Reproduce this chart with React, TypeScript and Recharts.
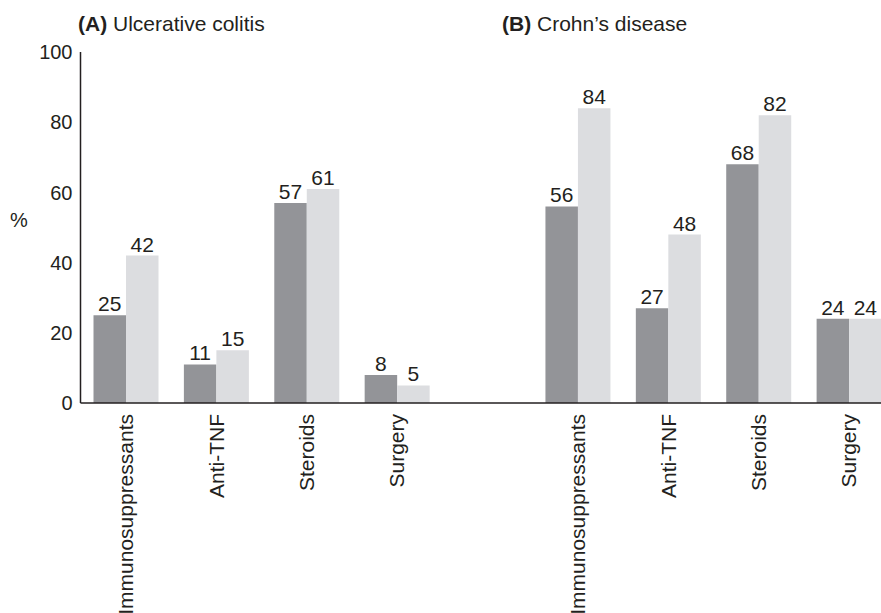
import { Bar, BarChart, LabelList, XAxis, YAxis } from "recharts";

const categories = [
  "Immunosuppressants",
  "Anti-TNF",
  "Steroids",
  "Surgery",
  "",
  "Immunosuppressants",
  "Anti-TNF",
  "Steroids",
  "Surgery",
];
const darkValues = [25, 11, 57, 8, null, 56, 27, 68, 24];
const lightValues = [42, 15, 61, 5, null, 84, 48, 82, 24];
const yTicks = [0, 20, 40, 60, 80, 100];

const FONT = "'Liberation Sans', Arial, Helvetica, sans-serif";
const INK = "#231f20";

const data = categories.map((name, i) => ({
  name,
  dark: darkValues[i],
  light: lightValues[i],
}));

function CategoryTick(props: any) {
  const { x, y, payload } = props;
  if (!payload.value) return null;
  return (
    <text
      transform={`translate(${x},${y + 9}) rotate(-90)`}
      textAnchor="end"
      dominantBaseline="central"
      fontFamily={FONT}
      fontSize={21}
      fill={INK}
    >
      {payload.value}
    </text>
  );
}

export default function App() {
  return (
    <div
      style={{
        position: "absolute",
        left: 0,
        top: 0,
        width: 881,
        height: 613,
        overflow: "hidden",
        background: "#fff",
      }}
    >
      <BarChart
        width={900}
        height={613}
        data={data}
        margin={{ top: 52, right: 6, left: 0, bottom: 0 }}
        barGap={0}
        barSize={32.5}
      >
        <XAxis
          dataKey="name"
          height={210}
          tickLine={false}
          tickSize={0}
          tick={<CategoryTick />}
          interval={0}
          axisLine={{ stroke: INK, strokeWidth: 1.5 }}
        />
        <YAxis
          width={80.5}
          domain={[0, 100]}
          ticks={yTicks}
          tickLine={false}
          tickSize={8}
          tickMargin={0}
          axisLine={{ stroke: INK, strokeWidth: 1.5 }}
          tick={{ fontFamily: FONT, fontSize: 20, fill: INK }}
        />
        <Bar dataKey="dark" fill="#939498" isAnimationActive={false}>
          <LabelList dataKey="dark" position="top" offset={4} fontFamily={FONT} fontSize={21} fill={INK} />
        </Bar>
        <Bar dataKey="light" fill="#dcdde0" isAnimationActive={false}>
          <LabelList dataKey="light" position="top" offset={4} fontFamily={FONT} fontSize={21} fill={INK} />
        </Bar>
      </BarChart>
      <svg
        width={881}
        height={613}
        style={{ position: "absolute", left: 0, top: 0, pointerEvents: "none" }}
      >
        <text x={78} y={31} fontFamily={FONT} fontSize={21} fill={INK}>
          <tspan fontWeight="bold">(A)</tspan> Ulcerative colitis
        </text>
        <text x={502} y={31} fontFamily={FONT} fontSize={21} fill={INK}>
          <tspan fontWeight="bold">(B)</tspan> Crohn’s disease
        </text>
        <text x={10} y={227} fontFamily={FONT} fontSize={20} fill={INK}>
          %
        </text>
      </svg>
    </div>
  );
}
